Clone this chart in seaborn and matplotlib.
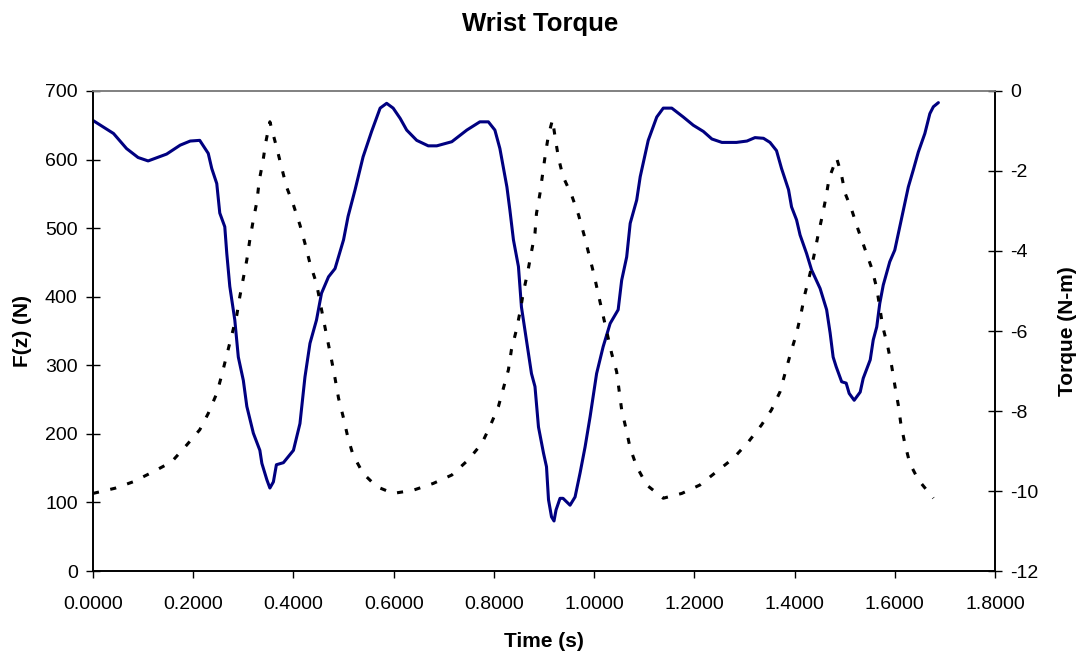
import numpy as np
import pandas as pd
import matplotlib
matplotlib.use("Agg")
import matplotlib.pyplot as plt
import seaborn as sns

# F(z) force trace (time in s, force in N)
t_force = [0.000, 0.041, 0.067, 0.090, 0.110, 0.147, 0.174, 0.194, 0.213, 0.230,
           0.237, 0.247, 0.253, 0.263, 0.267, 0.273, 0.283, 0.290, 0.300, 0.307,
           0.320, 0.333, 0.337, 0.347, 0.353, 0.360, 0.366, 0.380, 0.400, 0.413,
           0.423, 0.433, 0.446, 0.456, 0.470, 0.483, 0.500, 0.509, 0.523, 0.539,
           0.556, 0.573, 0.586, 0.599, 0.613, 0.626, 0.646, 0.669, 0.686, 0.716,
           0.746, 0.772, 0.789, 0.802, 0.812, 0.826, 0.832, 0.839, 0.849, 0.855,
           0.865, 0.875, 0.882, 0.889, 0.899, 0.905, 0.909, 0.915, 0.920, 0.924,
           0.932, 0.938, 0.952, 0.962, 0.972, 0.982, 0.992, 0.998, 1.005, 1.018,
           1.032, 1.048, 1.055, 1.065, 1.072, 1.085, 1.092, 1.108, 1.125, 1.138,
           1.155, 1.178, 1.198, 1.218, 1.235, 1.255, 1.284, 1.305, 1.321, 1.338,
           1.351, 1.364, 1.374, 1.388, 1.394, 1.404, 1.411, 1.424, 1.434, 1.451,
           1.464, 1.471, 1.477, 1.483, 1.494, 1.503, 1.509, 1.519, 1.531, 1.537,
           1.551, 1.557, 1.564, 1.570, 1.577, 1.590, 1.600, 1.607, 1.617, 1.627,
           1.637, 1.647, 1.660, 1.670, 1.677, 1.687]
force = [657, 638, 616, 603, 598, 608, 621, 627, 628, 609,
         587, 565, 522, 502, 463, 415, 366, 312, 278, 240,
         201, 176, 157, 133, 121, 130, 155, 158, 176, 215,
         283, 332, 366, 405, 429, 441, 483, 517, 556, 604,
         641, 675, 682, 675, 660, 643, 628, 620, 620, 626,
         643, 655, 655, 643, 616, 560, 526, 483, 444, 385,
         337, 288, 269, 210, 172, 152, 104, 79, 73, 89,
         106, 106, 96, 108, 143, 181, 225, 254, 288, 327,
         361, 381, 424, 458, 507, 541, 575, 628, 662, 675,
         675, 662, 650, 641, 630, 625, 625, 627, 632, 631,
         625, 613, 587, 556, 531, 512, 490, 463, 439, 412,
         381, 347, 312, 298, 276, 274, 259, 249, 261, 281,
         308, 337, 356, 390, 417, 451, 468, 492, 526, 560,
         585, 611, 638, 667, 677, 683]

# wrist torque trace (time in s, torque in N-m)
t_torque = [0.000, 0.044, 0.080, 0.120, 0.157, 0.187, 0.213, 0.230, 0.247, 0.257,
            0.267, 0.277, 0.287, 0.293, 0.300, 0.307, 0.313, 0.320, 0.327, 0.332,
            0.339, 0.345, 0.353, 0.366, 0.376, 0.386, 0.400, 0.413, 0.423, 0.433,
            0.446, 0.460, 0.468, 0.476, 0.483, 0.490, 0.500, 0.509, 0.519, 0.539,
            0.566, 0.599, 0.639, 0.679, 0.716, 0.749, 0.776, 0.792, 0.809, 0.819,
            0.829, 0.835, 0.845, 0.853, 0.859, 0.867, 0.875, 0.882, 0.885, 0.892,
            0.897, 0.903, 0.909, 0.917, 0.923, 0.929, 0.938, 0.955, 0.969, 0.980,
            0.990, 1.000, 1.008, 1.017, 1.026, 1.035, 1.045, 1.055, 1.064, 1.072,
            1.085, 1.105, 1.138, 1.175, 1.211, 1.244, 1.278, 1.308, 1.334, 1.354,
            1.371, 1.381, 1.392, 1.404, 1.413, 1.421, 1.431, 1.439, 1.447, 1.455,
            1.463, 1.469, 1.484, 1.493, 1.501, 1.514, 1.527, 1.541, 1.554, 1.564,
            1.576, 1.586, 1.594, 1.600, 1.607, 1.612, 1.620, 1.630, 1.647, 1.677]
torque = [-10.06, -9.93, -9.77, -9.52, -9.27, -8.85, -8.47, -8.06, -7.56, -7.10,
          -6.60, -6.10, -5.60, -5.14, -4.68, -4.22, -3.72, -3.22, -2.77, -2.22,
          -1.77, -1.27, -0.77, -1.39, -1.89, -2.39, -2.85, -3.35, -3.81, -4.31,
          -4.81, -5.72, -6.22, -6.72, -7.18, -7.68, -8.18, -8.68, -9.10, -9.56,
          -9.89, -10.06, -9.98, -9.81, -9.60, -9.22, -8.81, -8.39, -7.89, -7.43,
          -6.97, -6.47, -5.97, -5.47, -5.02, -4.56, -4.02, -3.56, -3.06, -2.56,
          -2.10, -1.56, -1.10, -0.72, -1.22, -1.68, -2.14, -2.60, -3.10, -3.60,
          -4.10, -4.60, -5.06, -5.56, -6.06, -6.56, -7.02, -7.97, -8.46, -8.93,
          -9.39, -9.85, -10.18, -10.06, -9.85, -9.52, -9.18, -8.77, -8.35, -7.97,
          -7.52, -7.06, -6.56, -6.06, -5.56, -5.06, -4.56, -4.10, -3.60, -3.14,
          -2.64, -2.18, -1.68, -2.06, -2.56, -2.97, -3.47, -3.97, -4.43, -4.93,
          -5.89, -6.39, -6.89, -7.35, -7.85, -8.31, -8.81, -9.31, -9.72, -10.18]

x_ticks = [0.0, 0.2, 0.4, 0.6, 0.8, 1.0, 1.2, 1.4, 1.6, 1.8]
force_ticks = [0, 100, 200, 300, 400, 500, 600, 700]
torque_ticks = [-12, -10, -8, -6, -4, -2, 0]

df_force = pd.DataFrame({"Time": t_force, "Fz": force})
df_torque = pd.DataFrame({"Time": t_torque, "Torque": torque})

sns.set_style("white")
plt.rcParams['font.family'] = ['Liberation Sans', 'DejaVu Sans']
plt.rcParams['axes.unicode_minus'] = False
plt.rcParams['text.color'] = 'black'
plt.rcParams['axes.labelcolor'] = 'black'
plt.rcParams['xtick.color'] = 'black'
plt.rcParams['ytick.color'] = 'black'

fig = plt.figure(figsize=(10.8, 6.55), dpi=100)
ax = fig.add_axes([0.0861, 0.1282, 0.8352, 0.7329])
ax2 = ax.twinx()

sns.lineplot(data=df_force, x="Time", y="Fz", ax=ax, color="#000080",
             linewidth=2.2, sort=False, estimator=None)
sns.lineplot(data=df_torque, x="Time", y="Torque", ax=ax2, color="black",
             linewidth=2.2, linestyle=(0, (2.0, 3.8)), sort=False, estimator=None)

ax.set_xlim(0, 1.8)
ax.set_ylim(0, 700)
ax2.set_ylim(-12, 0)
ax.set_xticks(x_ticks)
ax.set_xticklabels([f"{v:.4f}" for v in x_ticks])
ax.set_yticks(force_ticks)
ax2.set_yticks(torque_ticks)

for a in (ax, ax2):
    for s in ("left", "right", "bottom"):
        a.spines[s].set_color("black")
        a.spines[s].set_linewidth(1.2)
    a.spines["top"].set_color("#808080")
    a.spines["top"].set_linewidth(1.2)

ax.tick_params(axis="x", direction="out", length=5, width=1, labelsize=14, pad=13, bottom=True)
ax.tick_params(axis="y", direction="inout", length=10, width=1, labelsize=14, pad=6, left=True)
ax2.tick_params(axis="y", direction="inout", length=10, width=1, labelsize=14, pad=6, right=True)

ax.set_xlabel("Time (s)", fontsize=15, fontweight="bold", labelpad=14)
ax.set_ylabel("F(z) (N)", fontsize=15, fontweight="bold", labelpad=9)
ax2.set_ylabel("Torque (N-m)", fontsize=15, fontweight="bold", labelpad=14)

fig.suptitle("Wrist Torque", fontsize=18.5, fontweight="bold", y=0.964, va="center")

fig.savefig("out.png", dpi=100, facecolor="white")
